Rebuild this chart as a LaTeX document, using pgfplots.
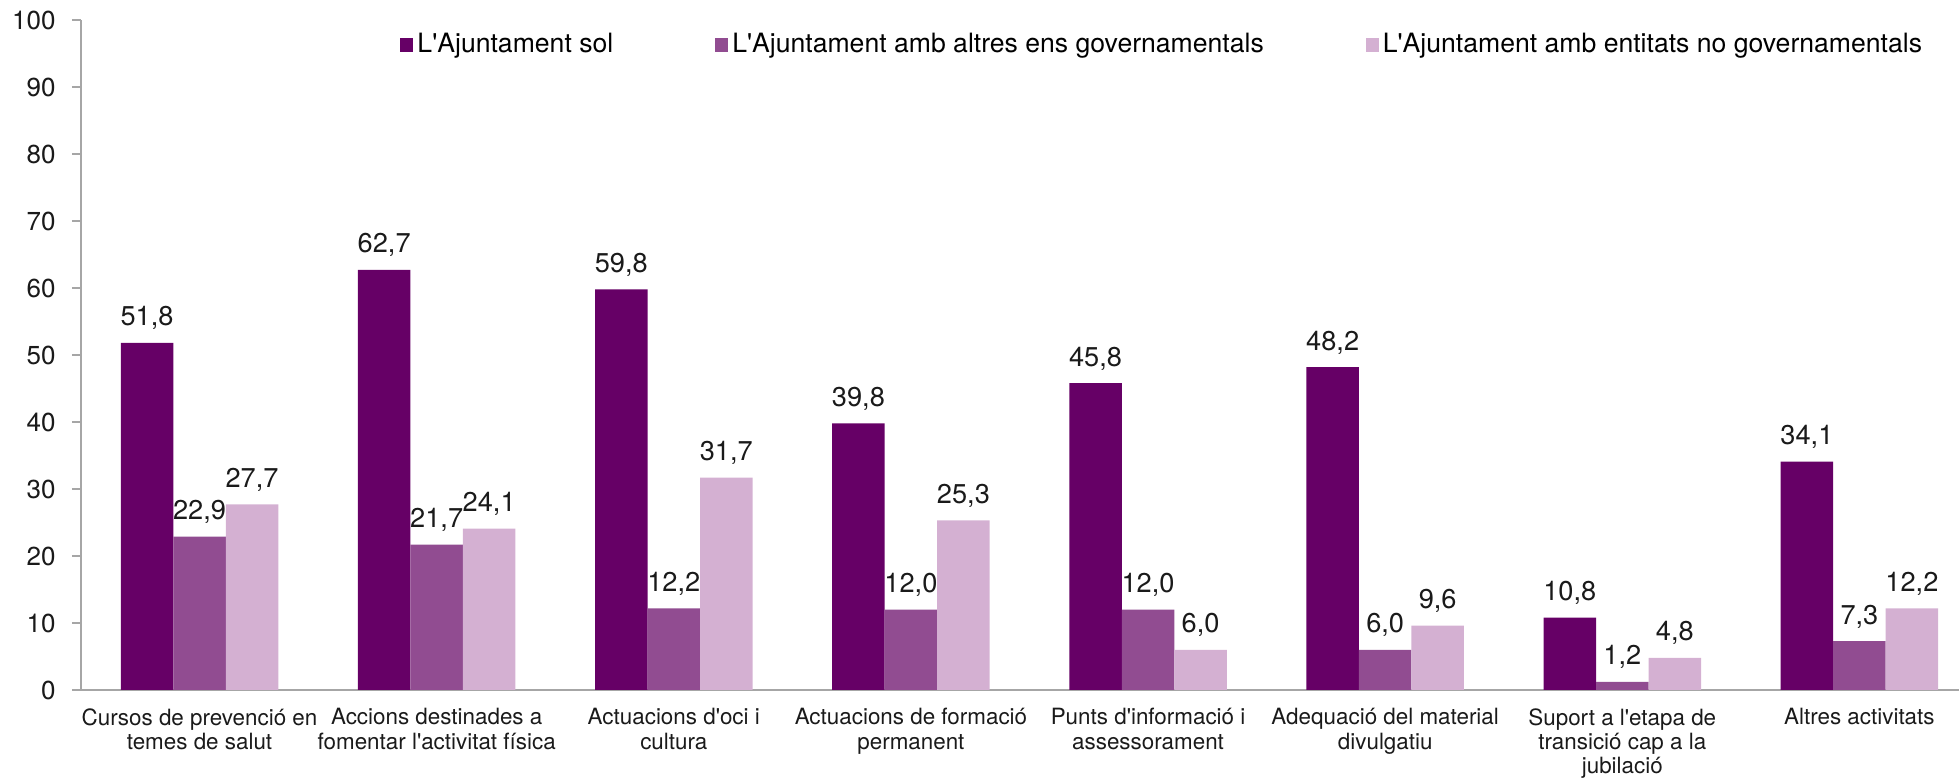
\documentclass[border=0pt]{standalone}
\usepackage{fontspec}
\setmainfont{TeX Gyre Heros}[Ligatures=TeXOff]
\usepackage{pgfplots}
\pgfplotsset{compat=1.18}

\definecolor{sol}{HTML}{660066}
\definecolor{govern}{HTML}{914C91}
\definecolor{entitats}{HTML}{D4B0D2}
\definecolor{axgray}{HTML}{A6A6A6}
\definecolor{txt}{HTML}{1A1A1A}

\begin{document}
\begin{tikzpicture}
\begin{axis}[
  at={(0,0)}, anchor=south west,
  scale only axis, width=939pt, height=335pt,
  xmin=-0.5, xmax=7.42, ymin=0, ymax=100,
  axis lines*=left,
  /pgf/number format/assume math mode=true,
  font=\fontsize{13}{13.5}\selectfont,
  x axis line style={axgray, line width=1pt},
  y axis line style={axgray, line width=0.6pt},
  ytick={0,10,...,100},
  ytick style={axgray, line width=0.6pt},
  tick align=outside, major tick length=4.5pt,
  yticklabel style={anchor=east, inner sep=0pt, xshift=-8pt, text=txt},
  xtick={0,...,7},
  xtick style={draw=none},
  xticklabels={{Cursos de prevenció en\\temes de salut},
    {Accions destinades a\\fomentar l'activitat física},
    {Actuacions d'oci i\\cultura},
    {Actuacions de formació\\permanent},
    {Punts d'informació i\\assessorament},
    {Adequació del material\\divulgatiu},
    {Suport a l'etapa de\\transició cap a la\\jubilació},
    {Altres activitats}},
  xticklabel style={align=center, anchor=north, inner sep=0pt, yshift=-4.5pt, text=txt,
    font=\fontsize{11.2}{12.2}\selectfont},
  ybar=0pt, bar width=0.2215,
  nodes near coords={\pgfmathprintnumber[fixed,fixed zerofill,precision=1,use comma]{\pgfplotspointmeta}},
  every node near coord/.append style={anchor=base, inner sep=0pt, yshift=8.5pt, text=txt,
    font=\fontsize{13.6}{14}\selectfont},
  legend columns=3,
  legend style={at={(rel axis cs:0.1699,0.963)}, anchor=west, draw=none, fill=none,
    inner sep=0pt, font=\fontsize{13.3}{14}\selectfont,
    /tikz/every even column/.append style={column sep=49pt}},
  legend image code/.code={\fill[#1] (0pt,-3.5pt) rectangle (6.5pt,3.5pt);},
]
\addplot[fill=sol, draw=none, bar shift=-0.2215] coordinates {
  (0,51.8) (1,62.7) (2,59.8) (3,39.8) (4,45.8) (5,48.2) (6,10.8) (7,34.1)};
\addlegendentry{L'Ajuntament sol}
\addplot[fill=govern, draw=none, bar shift=0] coordinates {
  (0,22.9) (1,21.7) (2,12.2) (3,12.0) (4,12.0) (5,6.0) (6,1.2) (7,7.3)};
\addlegendentry{L'Ajuntament amb altres ens governamentals}
\addplot[fill=entitats, draw=none, bar shift=0.2215] coordinates {
  (0,27.7) (1,24.1) (2,31.7) (3,25.3) (4,6.0) (5,9.6) (6,4.8) (7,12.2)};
\addlegendentry{L'Ajuntament amb entitats no governamentals}
\end{axis}
\pgfresetboundingbox
\path (-40.5pt,-44.5pt) rectangle (939pt,345pt);
\end{tikzpicture}
\end{document}
